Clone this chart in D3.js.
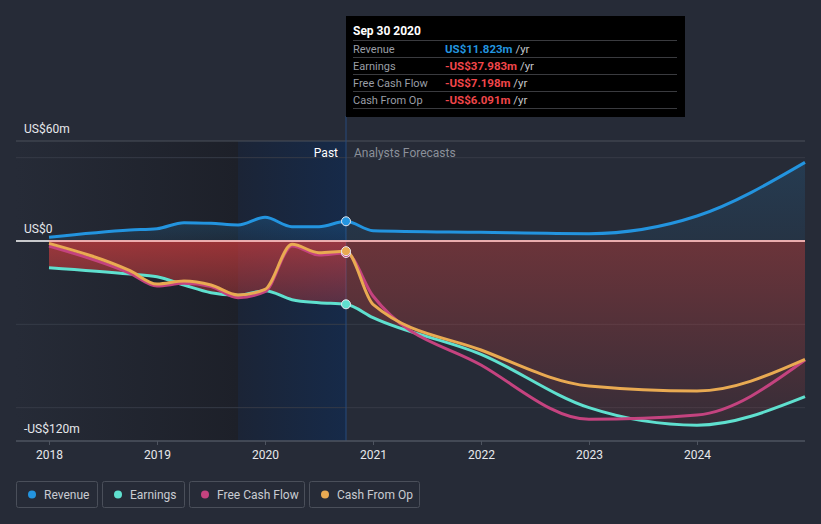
<!DOCTYPE html>
<html><head><meta charset="utf-8">
<script src="https://cdn.jsdelivr.net/npm/d3@7"></script>
<style>
html,body{margin:0;padding:0;background:#262b37;}
svg{display:block;font-family:Roboto,"Noto Sans",sans-serif;}
</style></head>
<body>
<svg id="chart" width="821" height="524"></svg>
<script>
// ---- data ----
const dates    = [2018.0, 2018.75, 2019.0, 2019.25, 2019.5, 2019.75, 2020.0, 2020.25, 2020.5, 2020.75, 2021.0, 2022.0, 2023.0, 2024.0, 2025.0];
const revenue  = [2.2, 6.6, 7.4, 11, 10.6, 9.6, 14.2, 8.6, 8.6, 11.823, 6.2, 5.2, 4.4, 15, 47.2];
const earnings = [-16, -19.8, -21.4, -26.4, -31, -32.6, -29.8, -35.2, -37, -37.983, -46, -68, -100, -110.5, -93.4];
const fcf      = [-3, -19.4, -27, -25.4, -27.4, -34, -30.4, -3, -8.4, -7.198, -33, -74.4, -107, -104.4, -71.4];
const cfo      = [-1.4, -17.8, -25.8, -24, -26.4, -32.4, -29, -2, -7, -6.091, -38, -65.4, -87, -90, -71];
const xTicks   = [2018, 2019, 2020, 2021, 2022, 2023, 2024];
const yLabels  = [60, 0, -120];
const yGrid    = [50, -50, -100];
const seriesNames  = ["Revenue", "Earnings", "Free Cash Flow", "Cash From Op"];
const seriesColors = ["#2394df", "#5fe0cf", "#c4437f", "#e9aa52"];
const tipDate   = "Sep 30 2020";
const tipTime   = 2020.75;
const tipValues = ["US$11.823m", "-US$37.983m", "-US$7.198m", "-US$6.091m"];
const pastStart = 2019.75;

const svg = d3.select("#chart");
const x = d3.scaleLinear().domain([2017.6944, 2025]).range([16, 805]);
const y = d3.scaleLinear().domain([-120, 60]).range([441, 141]);
const X0 = x.range()[0], X1 = x.range()[1];
const fmt = v => v === 0 ? "US$0" : (v < 0 ? "-" : "") + "US$" + Math.abs(v) + "m";

const defs = svg.append("defs");
function lg(id, x1, y1, x2, y2, stops) {
  const g = defs.append("linearGradient").attr("id", id).attr("gradientUnits", "userSpaceOnUse")
    .attr("x1", x1).attr("y1", y1).attr("x2", x2).attr("y2", y2);
  stops.forEach(s => g.append("stop").attr("offset", s[0]).attr("stop-color", s[1]).attr("stop-opacity", s[2]));
}
lg("pastDark", x(2017.6944), 0, x(pastStart), 0, [[0, "#262b37", 1], [1, "#1d2029", 1]]);
lg("pastBlue", x(pastStart), 0, x(tipTime), 0, [[0, "#1b2436", 1], [1, "#162a49", 1]]);
lg("redPast", 0, y(0), 0, y(-60), [[0, "#e8403f", 0.62], [1, "#e8403f", 0.12]]);
lg("redFut", 0, y(0), 0, y(-120), [[0, "#e6443f", 0.36], [1, "#e6443f", 0.06]]);
lg("bluePast", 0, y(15), 0, y(0), [[0, "#2394df", 0.22], [1, "#2394df", 0.1]]);
lg("blueFut", 0, y(50), 0, y(0), [[0, "#2394df", 0.16], [1, "#2394df", 0.08]]);

defs.append("clipPath").attr("id", "clipPast").append("rect")
  .attr("x", X0).attr("y", 0).attr("width", x(tipTime) - X0).attr("height", 524);
defs.append("clipPath").attr("id", "clipFut").append("rect")
  .attr("x", x(tipTime)).attr("y", 0).attr("width", X1 - x(tipTime)).attr("height", 524);

// past shading
svg.append("rect").attr("x", X0).attr("y", y(60)).attr("width", x(pastStart) - X0)
  .attr("height", y(-120) - y(60)).attr("fill", "url(#pastDark)");
svg.append("rect").attr("x", x(pastStart)).attr("y", y(60)).attr("width", x(tipTime) - x(pastStart))
  .attr("height", y(-120) - y(60)).attr("fill", "url(#pastBlue)");

// gridlines
svg.append("line").attr("x1", X0).attr("x2", X1).attr("y1", y(60)).attr("y2", y(60))
  .attr("stroke", "#4b505b").attr("stroke-width", 1);
yGrid.forEach(v => svg.append("line").attr("x1", X0).attr("x2", X1).attr("y1", y(v)).attr("y2", y(v))
  .attr("stroke", "#363b47").attr("stroke-width", 1));

// vertical marker line
svg.append("line").attr("x1", x(tipTime)).attr("x2", x(tipTime)).attr("y1", 116).attr("y2", y(-120))
  .attr("stroke", "#264a7c").attr("stroke-width", 1);

const pts = vals => dates.map((d, i) => [d, vals[i]]);
const areaGen = d3.area().x(d => x(d[0])).y0(y(0)).y1(d => y(d[1])).curve(d3.curveMonotoneX);
const lineGen = d3.line().x(d => x(d[0])).y(d => y(d[1])).curve(d3.curveMonotoneX);

// areas
svg.append("path").datum(pts(revenue)).attr("d", areaGen).attr("fill", "url(#bluePast)").attr("clip-path", "url(#clipPast)");
svg.append("path").datum(pts(revenue)).attr("d", areaGen).attr("fill", "url(#blueFut)").attr("clip-path", "url(#clipFut)");
svg.append("path").datum(pts(earnings)).attr("d", areaGen).attr("fill", "url(#redPast)").attr("clip-path", "url(#clipPast)");
svg.append("path").datum(pts(earnings)).attr("d", areaGen).attr("fill", "url(#redFut)").attr("clip-path", "url(#clipFut)");

// zero line
svg.append("line").attr("x1", X0).attr("x2", X1).attr("y1", y(0)).attr("y2", y(0))
  .attr("stroke", "#ffffff").attr("stroke-width", 1.5);
svg.append("line").attr("x1", x(dates[0])).attr("x2", X1).attr("y1", y(0)).attr("y2", y(0))
  .attr("stroke", "#f2a3a3").attr("stroke-width", 1.5);

// lines
[revenue, earnings, fcf, cfo].forEach((vals, i) => {
  svg.append("path").datum(pts(vals)).attr("d", lineGen).attr("fill", "none")
    .attr("stroke", seriesColors[i]).attr("stroke-width", 3).attr("stroke-linejoin", "round");
});
// markers
[revenue, earnings, fcf, cfo].forEach((vals, i) => {
  const k = dates.indexOf(tipTime);
  svg.append("circle").attr("cx", x(tipTime)).attr("cy", y(vals[k])).attr("r", 4.5)
    .attr("fill", seriesColors[i]).attr("stroke", "#e8e8f0").attr("stroke-width", 1);
});

// x axis
svg.append("line").attr("x1", X0).attr("x2", X1).attr("y1", y(-120)).attr("y2", y(-120))
  .attr("stroke", "#4e5460").attr("stroke-width", 1.5);
const xa = svg.append("g").attr("transform", `translate(0,${y(-120)})`)
  .call(d3.axisBottom(x).tickValues(xTicks).tickFormat(d3.format("d")).tickSize(4).tickSizeOuter(0));
xa.select(".domain").remove();
xa.selectAll(".tick line").attr("stroke", "#4e5460");
xa.selectAll(".tick text").attr("fill", "#e6e8ec").attr("font-size", 12).attr("dy", "0.95em")
  .style("font-family", "Roboto, sans-serif");

// y labels
yLabels.forEach(v => svg.append("text").attr("x", 24).attr("y", y(v) - 8)
  .attr("fill", "#e6e8ec").attr("font-size", 12).text(fmt(v)));

// past / forecast labels
svg.append("text").attr("x", x(tipTime) - 8).attr("y", 157).attr("text-anchor", "end")
  .attr("fill", "#ffffff").attr("font-size", 12).text("Past");
svg.append("text").attr("x", x(tipTime) + 8).attr("y", 157)
  .attr("fill", "#8b909a").attr("font-size", 12).text("Analysts Forecasts");

// tooltip
const tip = svg.append("g");
tip.append("rect").attr("x", 346).attr("y", 16).attr("width", 339).attr("height", 101).attr("fill", "#000000");
tip.append("text").attr("x", 353).attr("y", 35).attr("fill", "#ffffff").attr("font-size", 12)
  .attr("font-weight", "bold").text(tipDate);
seriesNames.forEach((n, i) => {
  const ty = 40.5 + i * 17;
  tip.append("line").attr("x1", 353).attr("x2", 677).attr("y1", ty).attr("y2", ty).attr("stroke", "#3a3b3f");
  tip.append("text").attr("x", 353).attr("y", ty + 12).attr("fill", "#9a9ea6").attr("font-size", 11).text(n);
  const t = tip.append("text").attr("x", 445).attr("y", ty + 12).attr("font-size", 11.5);
  t.append("tspan").attr("fill", i === 0 ? "#2394df" : "#f0464a").attr("font-weight", "bold").text(tipValues[i]);
  t.append("tspan").attr("fill", "#c4c6ca").text(" /yr");
});
tip.append("line").attr("x1", 353).attr("x2", 677).attr("y1", 108.5).attr("y2", 108.5).attr("stroke", "#3a3b3f");

// legend
const legX = [16, 102, 189, 309], legW = [81, 82, 115, 110];
seriesNames.forEach((n, i) => {
  const g = svg.append("g").attr("transform", `translate(${legX[i]},481)`);
  g.append("rect").attr("x", 0.5).attr("y", 0.5).attr("width", legW[i]).attr("height", 26).attr("rx", 2)
    .attr("fill", "none").attr("stroke", "#4a4f5a");
  g.append("circle").attr("cx", 16).attr("cy", 13.5).attr("r", 4).attr("fill", seriesColors[i]);
  g.append("text").attr("x", 28).attr("y", 17.5).attr("fill", "#c9ccd2").attr("font-size", 12).text(n);
});
</script>
</body></html>
